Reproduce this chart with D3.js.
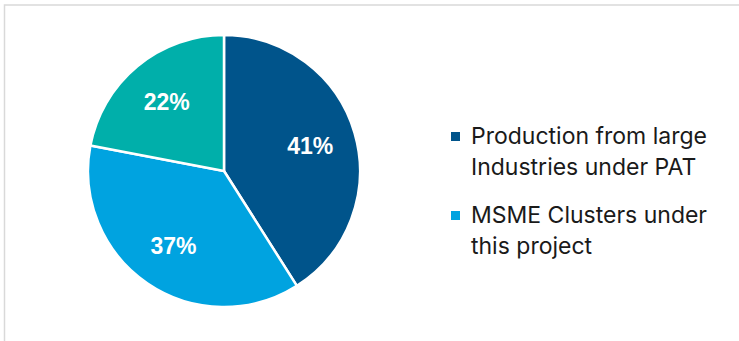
<!DOCTYPE html>
<html>
<head>
<meta charset="utf-8">
<script src="https://cdn.jsdelivr.net/npm/d3@7"></script>
<style>
  html, body { margin: 0; padding: 0; background: #ffffff; }
  svg { display: block; }
</style>
</head>
<body>
<svg id="chart" width="739" height="341"></svg>
<script>
// ---- data ----
const categories = ["Production from large Industries under PAT", "MSME Clusters under this project", "Other"];
const values = [41, 37, 22];
const colors = ["#00548B", "#00A3E0", "#00AFAA"];
const legendLines = [["Production from large", "Industries under PAT"], ["MSME Clusters under", "this project"]];

// ---- layout ----
const svg = d3.select("#chart");
const W = 739, H = 341;
svg.append("rect").attr("x", 0).attr("y", 0).attr("width", W).attr("height", H).attr("fill", "#fff");
svg.append("rect").attr("x", 4.5).attr("y", 5).attr("width", W + 20).attr("height", H + 20)
  .attr("fill", "none").attr("stroke", "#d9d9d9").attr("stroke-width", 1.5);

const cx = 224, cy = 171, r = 136;
const data = categories.map((c, i) => ({ cat: c, value: values[i], color: colors[i] }));
const pie = d3.pie().value(d => d.value).sort(null);
const arc = d3.arc().innerRadius(0).outerRadius(r);
const labelArc = d3.arc().innerRadius(r * 0.66).outerRadius(r * 0.66);
const arcs = pie(data);

const g = svg.append("g").attr("transform", `translate(${cx},${cy})`);
g.selectAll("path").data(arcs).join("path")
  .attr("d", arc)
  .attr("fill", d => d.data.color)
  .attr("stroke", "#fff")
  .attr("stroke-width", 2.5)
  .attr("stroke-linejoin", "round");

const total = d3.sum(values);
g.selectAll("text.lbl").data(arcs).join("text")
  .attr("class", "lbl")
  .attr("transform", d => `translate(${labelArc.centroid(d)})`)
  .attr("text-anchor", "middle")
  .attr("dy", "0.36em")
  .attr("font-family", "'Liberation Sans', Arial, sans-serif")
  .attr("font-weight", "bold")
  .attr("font-size", 23)
  .attr("fill", "#fff")
  .text(d => Math.round(d.data.value / total * 100) + "%");

// ---- legend ----
const legend = svg.append("g").attr("transform", "translate(451,0)");
const entryY = [144, 223];
legendLines.forEach((lines, i) => {
  const eg = legend.append("g").attr("transform", `translate(0,${entryY[i]})`);
  eg.append("rect").attr("x", 0).attr("y", -12).attr("width", 9).attr("height", 9)
    .attr("fill", colors[i]);
  const t = eg.append("text")
    .attr("x", 20).attr("y", 0)
    .attr("font-family", "Inter, 'Open Sans', sans-serif")
    .attr("font-size", 23)
    .attr("fill", "#1a1a1a");
  lines.forEach((ln, j) => {
    t.append("tspan").attr("x", 20).attr("y", j * 31).text(ln);
  });
});
</script>
</body>
</html>
